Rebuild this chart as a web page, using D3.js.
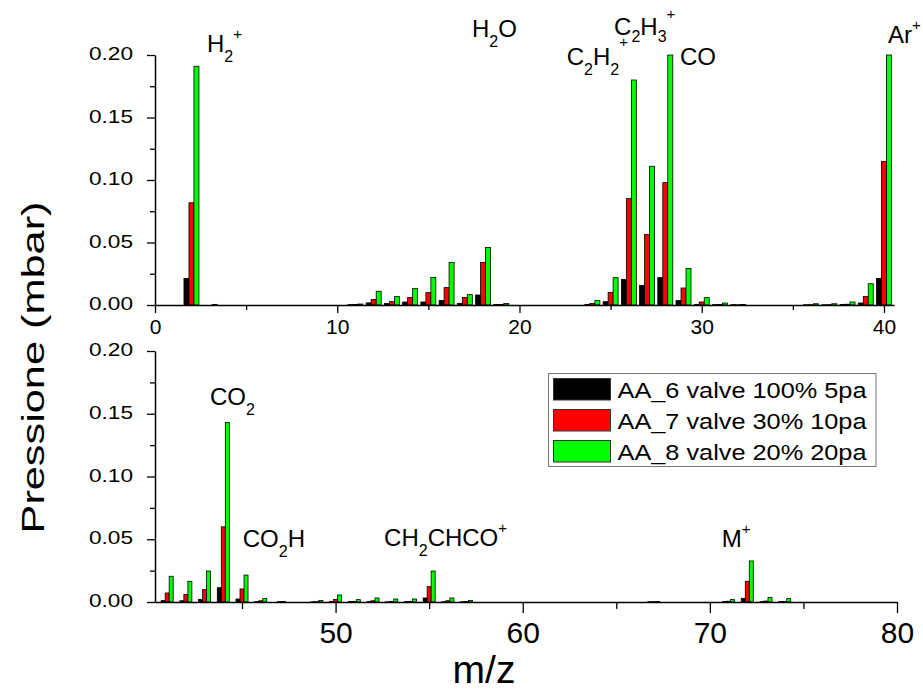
<!DOCTYPE html>
<html>
<head>
<meta charset="utf-8">
<script src="https://cdn.jsdelivr.net/npm/d3@7"></script>
<style>
  html, body { margin: 0; padding: 0; background: #fff; }
  svg { display: block; font-family: "Liberation Sans", Arial, sans-serif; }
</style>
</head>
<body>
<script>
// ---------------- DATA ----------------
const seriesNames = ["AA_6 valve 100% 5pa", "AA_7 valve 30% 10pa", "AA_8 valve 20% 20pa"];
const seriesColors = ["#000000", "#ff0000", "#00ff00"];

// Top panel (m/z 0 - 40)
const topMz  = [2, 3, 11, 12, 13, 14, 15, 16, 17, 18, 19, 24, 25, 26, 27, 28, 29, 30, 31, 32, 36, 37, 38, 39, 40];
const aa6Top = [0.0213, 0, 0.0003, 0.0017, 0.0012, 0.0024, 0.0024, 0.0037, 0.0013, 0.0080, 0.0004, 0.0005, 0.0027, 0.0205, 0.0157, 0.0219, 0.0035, 0.0005, 0.0003, 0.0003, 0.0002, 0.0002, 0.0004, 0.0016, 0.0213];
const aa7Top = [0.0818, 0, 0.0005, 0.0045, 0.0027, 0.0061, 0.0099, 0.0139, 0.0061, 0.0341, 0.0004, 0.0013, 0.0101, 0.0851, 0.0563, 0.0979, 0.0136, 0.0024, 0.0005, 0.0002, 0.0003, 0.0003, 0.0006, 0.0069, 0.1149];
const aa8Top = [0.1910, 0.0005, 0.0008, 0.0110, 0.0067, 0.0133, 0.0221, 0.0341, 0.0083, 0.0461, 0.0012, 0.0035, 0.0219, 0.1800, 0.1110, 0.2000, 0.0293, 0.0059, 0.0016, 0.0004, 0.0010, 0.0010, 0.0024, 0.0170, 0.2000];

// Bottom panel (m/z 40 - 80)
const botMz  = [41, 42, 43, 44, 45, 46, 47, 49, 50, 51, 52, 53, 54, 55, 56, 57, 67, 71, 72, 73, 74];
const aa6Bot = [0.0011, 0.0010, 0.0021, 0.0114, 0.0024, 0.0003, 0, 0.0002, 0.0004, 0.0004, 0.0003, 0.0002, 0.0003, 0.0032, 0.0002, 0.0002, 0.0002, 0.0003, 0.0029, 0.0003, 0.0003];
const aa7Bot = [0.0072, 0.0061, 0.0098, 0.0599, 0.0104, 0.0010, 0.0003, 0.0003, 0.0021, 0.0005, 0.0010, 0.0004, 0.0005, 0.0122, 0.0010, 0.0004, 0.0003, 0.0006, 0.0165, 0.0008, 0.0005];
const aa8Bot = [0.0205, 0.0165, 0.0247, 0.1430, 0.0215, 0.0027, 0.0004, 0.0013, 0.0056, 0.0019, 0.0032, 0.0024, 0.0024, 0.0247, 0.0032, 0.0013, 0.0004, 0.0019, 0.0327, 0.0037, 0.0027];

// Tick values
const yMajorTicks = [0, 0.05, 0.10, 0.15, 0.20];
const yMinorTicks = [0.025, 0.075, 0.125, 0.175];
const xTopMajor = [0, 10, 20, 30, 40];
const xTopMinor = [5, 15, 25, 35];
const xBotMajor = [50, 60, 70, 80];
const xBotMinor = [45, 55, 65, 75];

// Peak annotations (anchored in data coordinates)
const topLabels = [
  { mz: 2.85,  v: 0.2026, parts: [["H"], ["2", "sub"], ["+", "sup"]] },
  { mz: 17.39, v: 0.2144, parts: [["H"], ["2", "sub"], ["O"]] },
  { mz: 22.59, v: 0.1920, parts: [["C"], ["2", "sub"], ["H"], ["2", "sub"], ["+", "sup"]], sup: 18 },
  { mz: 25.19, v: 0.2160, parts: [["C"], ["2", "sub"], ["H"], ["3", "sub"], ["+", "sup"]], sub: 7, sup: 16 },
  { mz: 28.81, v: 0.1920, parts: [["CO"]] },
  { mz: 40.22, v: 0.2094, parts: [["Ar"], ["+", "sup"]] }
];
const botLabels = [
  { mz: 43.29, v: 0.1570, parts: [["CO"], ["2", "sub"]] },
  { mz: 45.04, v: 0.0441, parts: [["CO"], ["2", "sub"], ["H"]] },
  { mz: 52.59, v: 0.0446, parts: [["CH"], ["2", "sub"], ["CHCO"], ["+", "sup"]] },
  { mz: 70.64, v: 0.0438, parts: [["M"], ["+", "sup"]] }
];

// ---------------- CHART ----------------
const W = 923, H = 691;
const svg = d3.select("body").append("svg").attr("width", W).attr("height", H);
svg.append("rect").attr("width", W).attr("height", H).attr("fill", "#fff");

const xTop = d3.scaleLinear().domain([0, 40.55]).range([155, 894]);
const yTop = d3.scaleLinear().domain([0, 0.2]).range([305, 55]);
const xBot = d3.scaleLinear().domain([40.35, 80]).range([155, 897]);
const yBot = d3.scaleLinear().domain([0, 0.2]).range([602, 351]);

function drawBars(g, xs, ys, mz, series, w) {
  series.forEach((vals, s) => {
    const data = mz.map((m, i) => ({ m, v: vals[i] })).filter(d => d.v > 0);
    g.append("g").selectAll("rect").data(data).join("rect")
      .attr("x", d => xs(d.m + (s - 1.5) * w))
      .attr("width", d => xs(d.m + w) - xs(d.m))
      .attr("y", d => ys(Math.min(d.v, 0.2)))
      .attr("height", d => ys(0) - ys(Math.min(d.v, 0.2)))
      .attr("fill", seriesColors[s])
      .attr("stroke", "#000")
      .attr("stroke-width", 0.8);
  });
}

function drawYAxis(g, ys, x0) {
  const major = g.append("g").attr("transform", `translate(${x0},0)`)
    .call(d3.axisLeft(ys).tickValues(yMajorTicks).tickSize(8).tickSizeOuter(0)
      .tickPadding(14).tickFormat(d3.format(".2f")));
  major.select(".domain").attr("stroke-width", 1.5);
  major.selectAll(".tick line").attr("stroke-width", 1.3);
  major.selectAll(".tick text")
    .attr("font-size", 18).attr("fill", "#000")
    .attr("dy", null).attr("y", 4.5)
    .attr("textLength", 44).attr("lengthAdjust", "spacingAndGlyphs")
    .style("font-family", "Liberation Sans, Arial, sans-serif");
  const minor = g.append("g").attr("transform", `translate(${x0},0)`)
    .call(d3.axisLeft(ys).tickValues(yMinorTicks).tickSize(5).tickSizeOuter(0).tickFormat(""));
  minor.select(".domain").remove();
  minor.selectAll(".tick line").attr("stroke-width", 1.3);
}

function drawXAxis(g, xs, y0, majorVals, minorVals, majorLen, fs, labelY, fmt) {
  const major = g.append("g").attr("transform", `translate(0,${y0})`)
    .call(d3.axisBottom(xs).tickValues(majorVals).tickSize(majorLen).tickSizeOuter(0).tickFormat(fmt));
  major.select(".domain").attr("stroke-width", 1.5);
  major.selectAll(".tick line").attr("stroke-width", 1.3);
  major.selectAll(".tick text")
    .attr("font-size", fs).attr("fill", "#000")
    .attr("dy", null).attr("y", labelY)
    .style("font-family", "Liberation Sans, Arial, sans-serif");
  const minor = g.append("g").attr("transform", `translate(0,${y0})`)
    .call(d3.axisBottom(xs).tickValues(minorVals).tickSize(Math.round(majorLen * 0.6)).tickSizeOuter(0).tickFormat(""));
  minor.select(".domain").remove();
  minor.selectAll(".tick line").attr("stroke-width", 1.3);
}

function drawLabels(g, xs, ys, labels) {
  labels.forEach(a => {
    const t = g.append("text")
      .attr("x", xs(a.mz)).attr("y", ys(a.v))
      .attr("font-size", 24).attr("fill", "#000");
    let shift = 0;
    a.parts.forEach(p => {
      const kind = p[1];
      const target = kind === "sub" ? (a.sub || 10) : kind === "sup" ? -(a.sup || 13) : 0;
      t.append("tspan")
        .attr("dy", target - shift)
        .attr("font-size", kind === "sub" ? 16 : kind === "sup" ? 15 : 24)
        .text(p[0]);
      shift = target;
    });
  });
}

// Top panel
const gTop = svg.append("g");
drawBars(gTop, xTop, yTop, topMz, [aa6Top, aa7Top, aa8Top], 0.274);
drawXAxis(gTop, xTop, 305, xTopMajor, xTopMinor, 8, 21, 29, d3.format("d"));
drawYAxis(gTop, yTop, 155);
drawLabels(gTop, xTop, yTop, topLabels);

// Bottom panel
const gBot = svg.append("g");
drawBars(gBot, xBot, yBot, botMz, [aa6Bot, aa7Bot, aa8Bot], 0.214);
drawXAxis(gBot, xBot, 602, xBotMajor, xBotMinor, 11, 30, 41, d3.format("d"));
drawYAxis(gBot, yBot, 155);
drawLabels(gBot, xBot, yBot, botLabels);

// Axis titles
svg.append("text")
  .attr("transform", "translate(43.5,367.5) rotate(-90)")
  .attr("text-anchor", "middle")
  .attr("font-size", 32)
  .attr("textLength", 332).attr("lengthAdjust", "spacingAndGlyphs")
  .attr("fill", "#000")
  .text("Pressione (mbar)");

svg.append("text")
  .attr("x", 484).attr("y", 683)
  .attr("text-anchor", "middle")
  .attr("font-size", 39)
  .attr("fill", "#000")
  .text("m/z");

// Legend
const leg = svg.append("g");
leg.append("rect")
  .attr("x", 548.5).attr("y", 373.5).attr("width", 327.5).attr("height", 93)
  .attr("fill", "#fff").attr("stroke", "#777").attr("stroke-width", 1);
seriesNames.forEach((name, i) => {
  leg.append("rect")
    .attr("x", 553.5).attr("y", 378.5 + i * 31).attr("width", 57).attr("height", 21.5)
    .attr("fill", seriesColors[i]).attr("stroke", "#333").attr("stroke-width", 1);
  leg.append("text")
    .attr("x", 617.5).attr("y", 397.5 + i * 31)
    .attr("font-size", 22)
    .attr("textLength", 249).attr("lengthAdjust", "spacingAndGlyphs")
    .attr("fill", "#000")
    .text(name);
});
</script>
</body>
</html>
